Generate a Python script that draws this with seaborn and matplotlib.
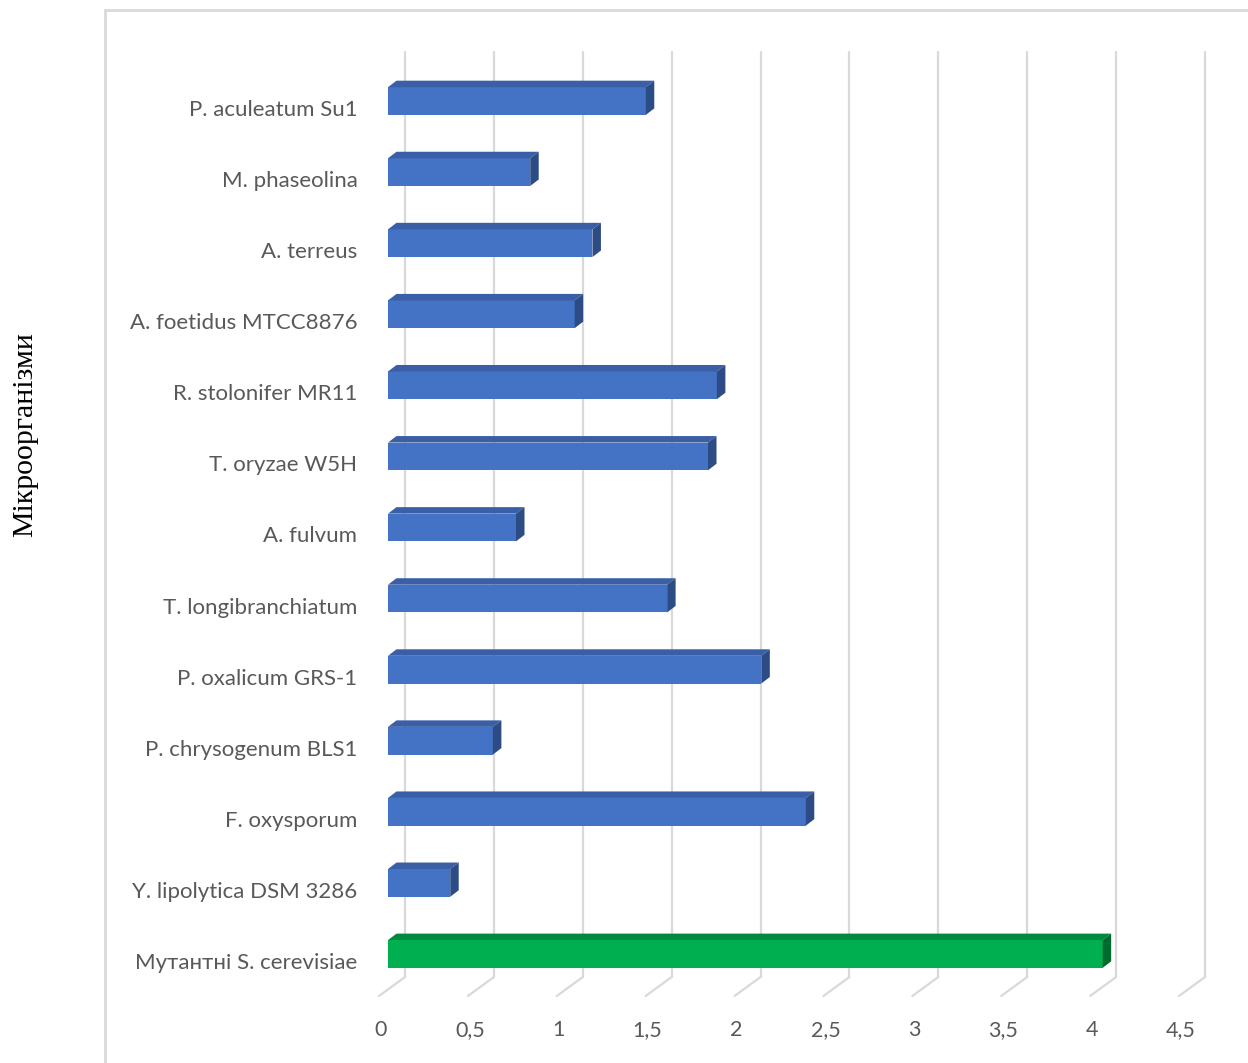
import matplotlib
matplotlib.use("Agg")
import matplotlib.pyplot as plt
import matplotlib.transforms as mtransforms
from matplotlib.patches import Polygon
from matplotlib.lines import Line2D
import seaborn as sns
import pandas as pd

# ---- data ----
organisms = [
    "P. aculeatum Su1", "M. phaseolina", "A. terreus", "A. foetidus MTCC8876",
    "R. stolonifer MR11", "T. oryzae W5H", "A. fulvum", "T. longibranchiatum",
    "P. oxalicum GRS-1", "P. chrysogenum BLS1", "F. oxysporum",
    "Y. lipolytica DSM 3286", "Мутантні S. cerevisiae",
]
values = [1.45, 0.80, 1.15, 1.05, 1.85, 1.80, 0.72, 1.57, 2.10, 0.59, 2.35, 0.35, 4.02]
groups = ["other"] * 12 + ["mutant"]
x_ticks = [0, 0.5, 1, 1.5, 2, 2.5, 3, 3.5, 4, 4.5]
x_tick_labels = ["0", "0,5", "1", "1,5", "2", "2,5", "3", "3,5", "4", "4,5"]
y_title = "Мікроорганізми"

front_col = {"other": "#4472C4", "mutant": "#00B050"}
top_col = {"other": "#3A5FA6", "mutant": "#008A3E"}
side_col = {"other": "#2D4C86", "mutant": "#006B2F"}

df = pd.DataFrame({"organism": organisms, "value": values, "group": groups})

sns.set_style("white")
plt.rcParams["font.family"] = ["Lato", "DejaVu Sans"]

W, H = 1248, 1063
fig = plt.figure(figsize=(W / 100, H / 100), dpi=100)
ax_left, ax_right = 388, 1188
ax_top, ax_bot = 65.5, 989.5
ax = fig.add_axes([ax_left / W, (H - ax_bot) / H, (ax_right - ax_left) / W, (ax_bot - ax_top) / H])

sns.barplot(data=df, x="value", y="organism", hue="group", palette=front_col,
            dodge=False, width=0.39, ax=ax, legend=False, zorder=3, linewidth=0,
            saturation=1)

ax.set_xlim(0, 4.5)
ax.set_ylim(len(organisms) - 0.5, -0.5)
for s in ax.spines.values():
    s.set_visible(False)
ax.set_xlabel("")
ax.set_ylabel("")

px = lambda v: v / 100.0  # pixel -> inch

# ---- 3D faces on bars ----
fig.canvas.draw()
ppx = ax.transData.transform((1, 0))[0] - ax.transData.transform((0, 0))[0]
ppy = abs(ax.transData.transform((0, 1))[1] - ax.transData.transform((0, 0))[1])
ddx = 8.5 / ppx
ddy = -6.5 / ppy
bars = sorted(ax.patches, key=lambda p: p.get_y())
for p, g in zip(bars, groups):
    x0, w = p.get_x(), p.get_width()
    y0, h = p.get_y(), p.get_height()
    top = Polygon([(x0, y0), (x0 + w, y0), (x0 + w + ddx, y0 + ddy), (x0 + ddx, y0 + ddy)],
                  closed=True, facecolor=top_col[g], edgecolor="none", zorder=3)
    side = Polygon([(x0 + w, y0), (x0 + w + ddx, y0 + ddy), (x0 + w + ddx, y0 + h + ddy), (x0 + w, y0 + h)],
                   closed=True, facecolor=side_col[g], edgecolor="none", zorder=3)
    ax.add_patch(top)
    ax.add_patch(side)

# ---- back-wall gridlines with floor diagonals ----
blend = mtransforms.blended_transform_factory(ax.transData, ax.transAxes)
back_shift = blend + mtransforms.ScaledTranslation(px(17), 0, fig.dpi_scale_trans)
h_ax = ax_bot - ax_top
y_gtop = (ax_bot - 52) / h_ax
y_gbot = (ax_bot - 977) / h_ax
for t in x_ticks:
    ax.add_line(Line2D([t, t], [y_gbot, y_gtop], transform=back_shift, color="#D9D9D9",
                       lw=1.6, zorder=1, clip_on=False))
    start = back_shift.transform((t, y_gbot))
    sx, sy = start[0] / 100.0, start[1] / 100.0
    fig.add_artist(Line2D([sx, sx + px(-26)], [sy, sy + px(-19)],
                          transform=fig.dpi_scale_trans, color="#D9D9D9", lw=1.6,
                          zorder=1, clip_on=False))

# ---- ticks ----
ax.set_xticks(x_ticks)
ax.set_xticklabels(x_tick_labels)
ax.tick_params(axis="x", length=0, pad=22, labelsize=15.5, labelcolor="#595959")
ax.tick_params(axis="y", length=0, pad=22, labelsize=16, labelcolor="#595959")
for lab in ax.get_xticklabels():
    lab.set_transform(lab.get_transform() + mtransforms.ScaledTranslation(px(-7), 0, fig.dpi_scale_trans))
for lab in ax.get_yticklabels():
    lab.set_transform(lab.get_transform() + mtransforms.ScaledTranslation(0, px(-7), fig.dpi_scale_trans))

# ---- axis title ----
fig.text(25 / W, (H - 435) / H, y_title, rotation=90, ha="center", va="center",
         fontsize=21.5, family=["Liberation Serif", "DejaVu Serif"], color="black")

# ---- outer chart frame ----
fig.add_artist(Line2D([105 / W, 105 / W], [0, (H - 10) / H], transform=fig.transFigure,
                      color="#D9D9D9", lw=2))
fig.add_artist(Line2D([105 / W, 1], [(H - 10) / H, (H - 10) / H], transform=fig.transFigure,
                      color="#D9D9D9", lw=2))

fig.savefig("out.png", dpi=100)
